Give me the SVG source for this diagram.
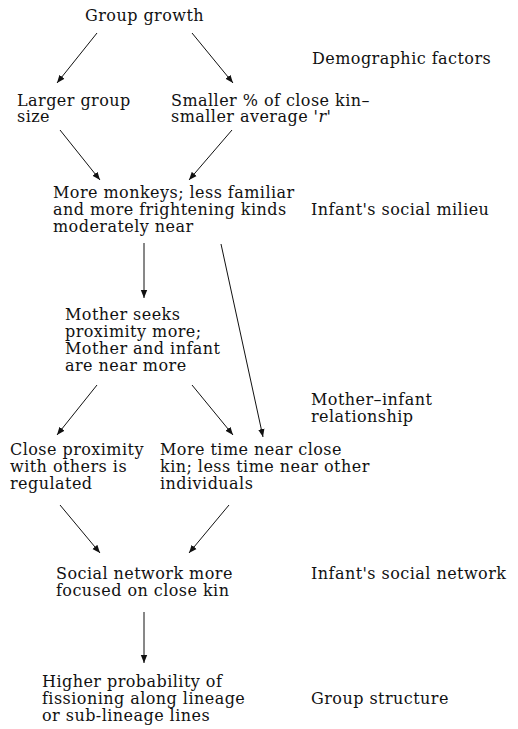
<svg xmlns="http://www.w3.org/2000/svg" width="518" height="729" viewBox="0 0 518 729">
<style>
text{font-family:"DejaVu Serif","Liberation Serif",serif;font-size:16px;letter-spacing:0.45px;fill:#111}
.c line{stroke:#111;stroke-width:1;marker-end:url(#ah)}
</style>
<defs><marker id="ah" viewBox="0 0 10 10" refX="10" refY="5" markerWidth="8" markerHeight="8" markerUnits="userSpaceOnUse" orient="auto"><path d="M0,1 L10,5 L0,9 z" fill="#111"/></marker></defs>
<rect width="518" height="729" fill="#fff"/>
<g id="n-growth"><text x="85" y="21">Group growth</text></g>
<g id="n-larger"><text x="17" y="106">Larger group<tspan x="17" y="122">size</tspan></text></g>
<g id="n-smaller"><text x="171" y="106">Smaller % of close kin–<tspan x="171" y="122">smaller average '</tspan><tspan font-style="italic">r</tspan>'</text></g>
<g id="l-demo"><text x="312" y="64">Demographic factors</text></g>
<g id="n-monkeys"><text x="53" y="198">More monkeys; less familiar<tspan x="53" y="215">and more frightening kinds</tspan><tspan x="53" y="232">moderately near</tspan></text></g>
<g id="l-milieu"><text x="311" y="215">Infant's social milieu</text></g>
<g id="n-mother"><text x="65" y="320">Mother seeks<tspan x="65" y="337">proximity more;</tspan><tspan x="65" y="354">Mother and infant</tspan><tspan x="65" y="371">are near more</tspan></text></g>
<g id="l-mi"><text x="311" y="405">Mother–infant<tspan x="311" y="422">relationship</tspan></text></g>
<g id="n-close"><text x="10" y="455">Close proximity<tspan x="10" y="472">with others is</tspan><tspan x="10" y="489">regulated</tspan></text></g>
<g id="n-time"><text x="160" y="455">More time near close<tspan x="160" y="472">kin; less time near other</tspan><tspan x="160" y="489">individuals</tspan></text></g>
<g id="n-network"><text x="56" y="579">Social network more<tspan x="56" y="596">focused on close kin</tspan></text></g>
<g id="l-network"><text x="311" y="579">Infant's social network</text></g>
<g id="n-fission"><text x="42" y="687">Higher probability of<tspan x="42" y="704">fissioning along lineage</tspan><tspan x="42" y="721">or sub-lineage lines</tspan></text></g>
<g id="l-structure"><text x="311" y="704">Group structure</text></g>
<g class="c" id="connectors">
<line x1="97" y1="33" x2="57" y2="83"/>
<line x1="192" y1="33" x2="233" y2="83"/>
<line x1="60" y1="130" x2="100" y2="180"/>
<line x1="232" y1="130" x2="189" y2="180"/>
<line x1="144" y1="243" x2="144" y2="298"/>
<line x1="221" y1="244" x2="263" y2="437"/>
<line x1="97" y1="385" x2="57" y2="435"/>
<line x1="192" y1="385" x2="233" y2="435"/>
<line x1="60" y1="505" x2="100" y2="553"/>
<line x1="229" y1="505" x2="189" y2="553"/>
<line x1="144" y1="612" x2="144" y2="663"/>
</g>
</svg>
